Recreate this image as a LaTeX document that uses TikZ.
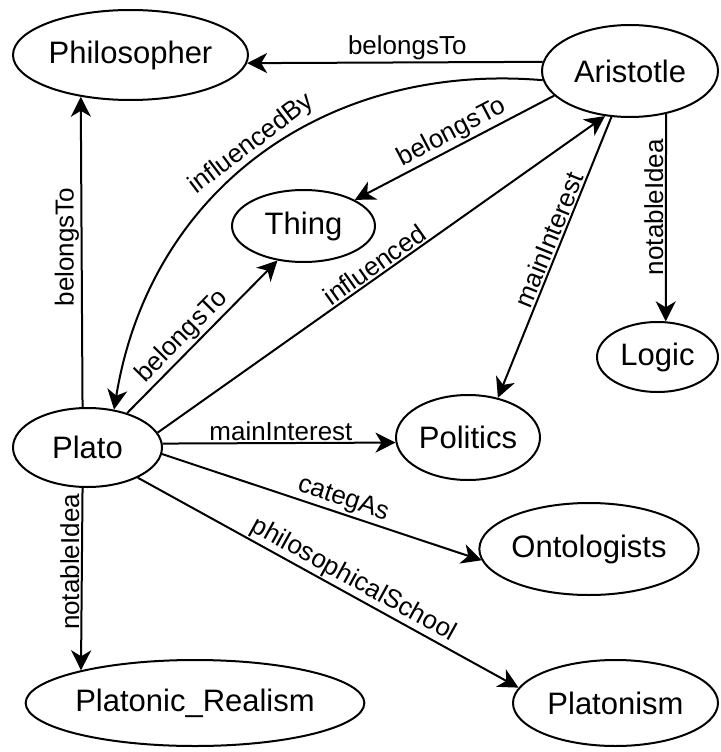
\documentclass[tikz,border=0pt]{standalone}
\usepackage{fontspec}
\setmainfont{Liberation Sans}
\usetikzlibrary{arrows.meta,shapes.geometric}
\begin{document}
\begin{tikzpicture}[x=1pt,y=-1pt,
  concept/.style={ellipse,draw,line width=2pt,fill=white,inner sep=0pt,
    font=\fontsize{31}{36}\selectfont},
  rel/.style={line width=2pt,-{Stealth[length=20pt,width=20pt,inset=6pt]}},
  lbl/.style={font=\fontsize{26}{30}\selectfont,sloped,above,inner sep=1.5pt},
  lblup/.style={font=\fontsize{26}{30}\selectfont,rotate=90,anchor=south,inner sep=1.5pt}]
\useasboundingbox (0,0) rectangle (720,752);

% concepts
\node[concept,minimum width=235pt,minimum height=90pt] (phil)      at (130.5,55)  {Philosopher};
\node[concept,minimum width=176pt,minimum height=92pt] (arist)     at (630,71)    {Aristotle};
\node[concept,minimum width=143pt,minimum height=72pt] (thing)     at (303.5,226) {Thing};
\node[concept,minimum width=149pt,minimum height=79pt] (plato)     at (87.5,447.5) {Plato};
\node[concept,minimum width=144pt,minimum height=85pt] (pol)       at (468,437.5) {Politics};
\node[concept,minimum width=121pt,minimum height=70pt] (logic)     at (657.5,357) {Logic};
\node[concept,minimum width=218pt,minimum height=92pt] (onto)      at (589,549)   {Ontologists};
\node[concept,minimum width=205pt,minimum height=86pt] (platonism) at (615.5,703) {Platonism};
\node[concept,minimum width=327pt,minimum height=86pt] (realism)   at (195,703)   {Platonic\_Realism};

% relations
\draw[rel] (arist.174.7) -- node[lbl,pos=0.458]{belongsTo} (phil.-4);
\draw[rel] (plato.97.9) -- node[lblup,pos=0.516]{belongsTo} (phil.220.2);
\draw[rel] (arist.186) .. controls (325,62) and (150,190) .. node[lbl,pos=0.5]{influencedBy} (plato.55.5);
\draw[rel] (arist.198.9) -- node[lbl,pos=0.48]{belongsTo} (thing.27.7);
\draw[rel] (plato.41.1) -- node[lbl,pos=0.435]{belongsTo} (thing.233.1);
\draw[rel] (plato.12.4) -- node[lbl,pos=0.5]{influenced} (arist.241.2);
\draw[rel] (arist.248.2) -- node[lbl,pos=0.453]{mainInterest} (pol.53.3);
\draw[rel] (arist.-50.3) -- node[lblup,pos=0.449]{notableIdea} (logic.77.8);
\draw[rel] (plato.3.2) -- node[lbl,pos=0.508]{mainInterest} (pol.184.7);
\draw[rel] (plato.-5.7) -- node[lbl,pos=0.553]{categAs} (onto.186);
\draw[rel] (plato.-31.1) -- node[lbl,pos=0.548]{philosophicalSchool} (platonism.171.1);
\draw[rel] (plato.263.1) -- node[lblup,pos=0.406]{notableIdea} (realism.164.5);
\end{tikzpicture}
\end{document}
